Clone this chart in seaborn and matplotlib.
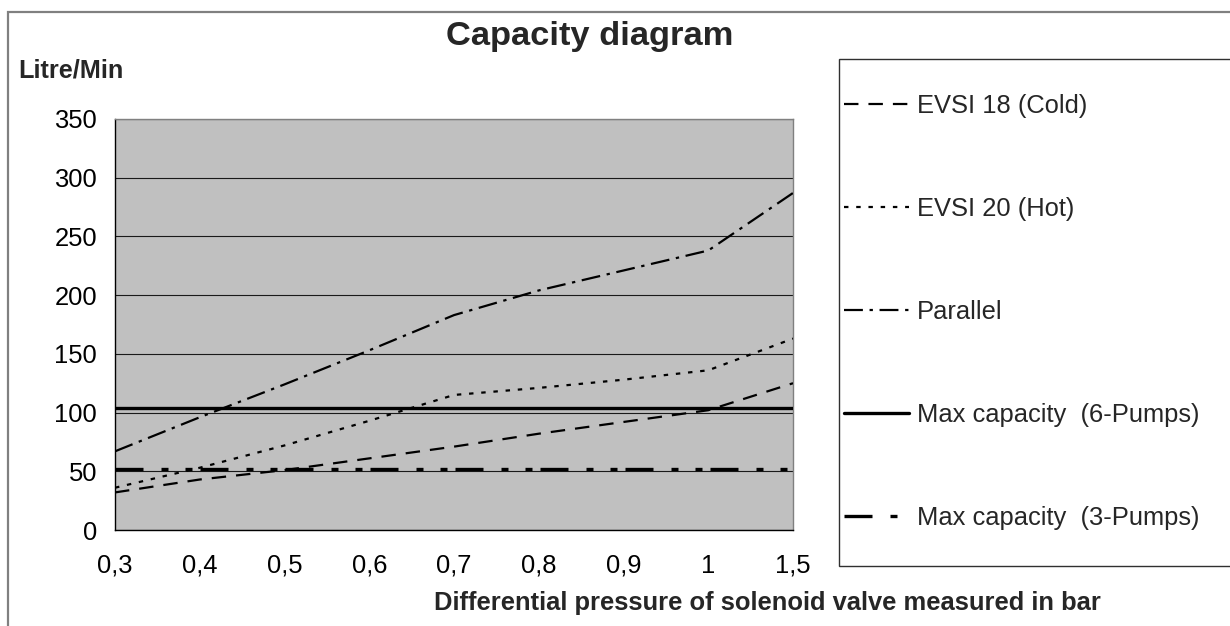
import numpy as np
import pandas as pd
import matplotlib
matplotlib.use("Agg")
import matplotlib.pyplot as plt
import seaborn as sns
from matplotlib.patches import Rectangle

# ---------------- data ----------------
pressure_labels = ["0,3", "0,4", "0,5", "0,6", "0,7", "0,8", "0,9", "1", "1,5"]
evsi18_cold = [32, 43, 51, 61, 71, 82, 92, 102, 125]
evsi20_hot = [36, 53, 72, 93, 115, 121, 128, 136, 163]
parallel = [67, 96, 124, 153, 183, 204, 221, 238, 287]
max_6_pumps = [104, 104, 104, 104, 104, 104, 104, 104, 104]
max_3_pumps = [52, 52, 52, 52, 52, 52, 52, 52, 52]
series_names = ["EVSI 18 (Cold)", "EVSI 20 (Hot)", "Parallel",
                "Max capacity  (6-Pumps)", "Max capacity  (3-Pumps)"]
y_ticks = [0, 50, 100, 150, 200, 250, 300, 350]

# ---------------- style ----------------
sns.set_style("white")
plt.rcParams["font.family"] = ["Liberation Sans", "DejaVu Sans"]

W, H = 1230, 626
fig = plt.figure(figsize=(W / 100, H / 100), dpi=100)
fig.patch.set_facecolor("white")

# outer frame (left + top visible)
fig.add_artist(Rectangle((8 / W, -0.2), 1.2, (H - 12) / H + 0.2, transform=fig.transFigure,
                         fill=False, edgecolor="#808080", lw=1.6, clip_on=False))

ax = fig.add_axes([115 / W, 96 / H, 678 / W, 411 / H])
ax.set_facecolor("#c0c0c0")

x = np.arange(len(pressure_labels))
df = pd.DataFrame({"x": x, series_names[0]: evsi18_cold, series_names[1]: evsi20_hot,
                   series_names[2]: parallel, series_names[3]: max_6_pumps,
                   series_names[4]: max_3_pumps})

styles = [
    dict(lw=1.6, linestyle=(0, (6.5, 4.5))),
    dict(lw=1.6, linestyle=(0, (2.0, 3.5))),
    dict(lw=1.6, linestyle=(0, (8.5, 3.0, 1.5, 3.0))),
    dict(lw=2.4, linestyle="-"),
    dict(lw=2.4, linestyle=(0, (8.4, 5.4, 2.1, 5.1, 2.1, 2.4))),
]
handles = []
for name, st in zip(series_names, styles):
    sns.lineplot(data=df, x="x", y=name, ax=ax, color="black", legend=False,
                 zorder=3, **st)
    ln = ax.lines[-1]
    ln.set_dash_capstyle("butt")
    handles.append(ln)

ax.set_xlim(0, len(pressure_labels) - 1)
ax.set_ylim(0, 350)
ax.set_xticks(x)
ax.set_xticklabels(pressure_labels)
ax.set_yticks(y_ticks)
ax.set_xlabel("")
ax.set_ylabel("")
ax.yaxis.grid(True, color="#1a1a1a", lw=0.8)
ax.xaxis.grid(False)
ax.set_axisbelow(True)
ax.tick_params(axis="both", direction="inout", length=12, width=0.8, colors="black",
               labelsize=18.4)
ax.tick_params(axis="x", pad=11)
ax.tick_params(axis="y", pad=7)
for s in ["left", "bottom"]:
    ax.spines[s].set_color("black")
    ax.spines[s].set_linewidth(1.0)
for s in ["top", "right"]:
    ax.spines[s].set_color("#808080")
    ax.spines[s].set_linewidth(1.0)

# texts
fig.text(590 / W, (H - 36) / H, "Capacity diagram", ha="center", va="center",
         fontsize=24.8, fontweight="bold")
fig.text(18 / W, (H - 70) / H, "Litre/Min", ha="left", va="center",
         fontsize=18.2, fontweight="bold")
fig.text(767 / W, (H - 603) / H, "Differential pressure of solenoid valve measured in bar",
         ha="center", va="center", fontsize=18.4, fontweight="bold")

# legend box
fig.add_artist(Rectangle((839 / W, (H - 566) / H), 1.0, (566 - 59) / H,
                         transform=fig.transFigure, facecolor="white",
                         edgecolor="#303030", lw=1.0, clip_on=False, zorder=1))
leg = fig.legend(handles, series_names, loc="upper left",
                 bbox_to_anchor=(844 / W, (H - 94) / H), frameon=False,
                 fontsize=18.4, handlelength=2.54, handletextpad=0.31,
                 labelspacing=3.09, borderpad=0, borderaxespad=0)
leg.set_zorder(5)

fig.savefig("out.png", dpi=100, facecolor="white")
